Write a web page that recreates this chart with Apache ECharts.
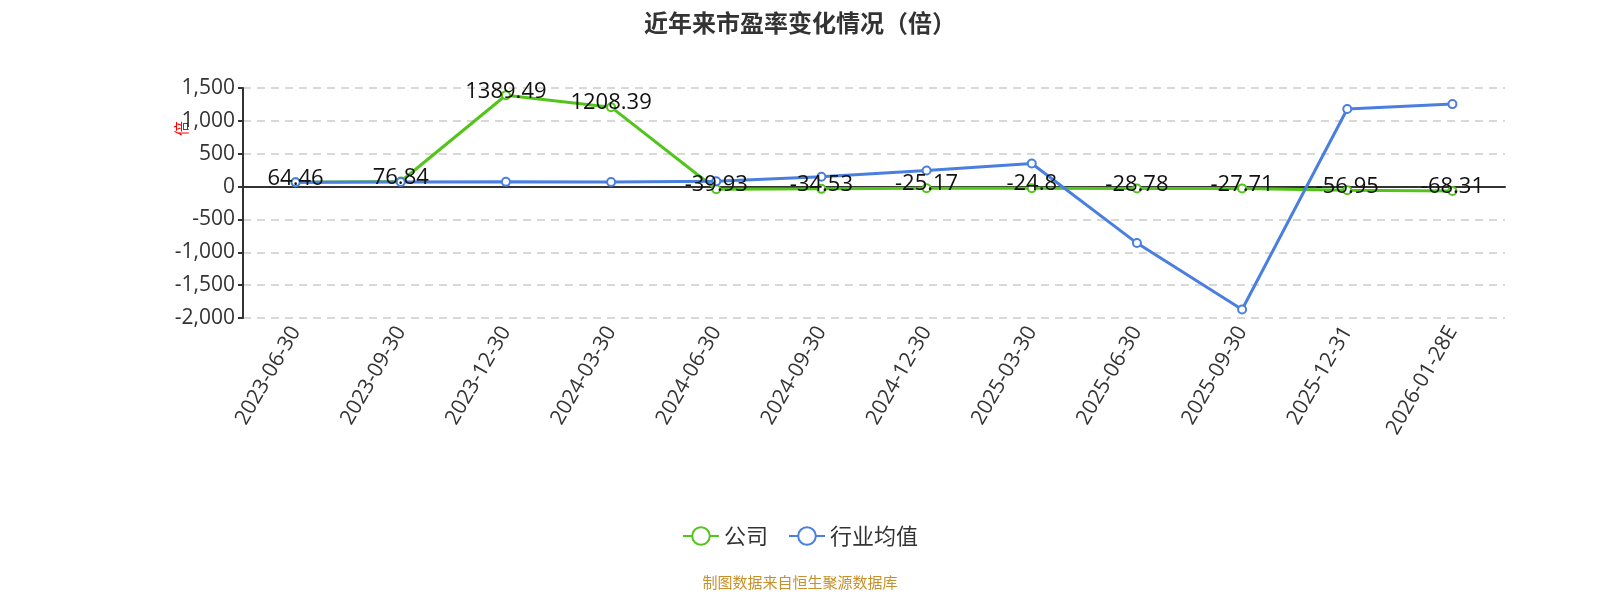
<!DOCTYPE html><html><head><meta charset="utf-8"><script src="https://cdn.jsdelivr.net/npm/echarts@6/dist/echarts.min.js"></script></head><body style="margin:0"><div id="c" style="width:1600px;height:600px"></div><script>
const categories=['2023-06-30','2023-09-30','2023-12-30','2024-03-30','2024-06-30','2024-09-30','2024-12-30','2025-03-30','2025-06-30','2025-09-30','2025-12-31','2026-01-28E'];
const company=[64.46,76.84,1389.49,1208.39,-39.93,-34.53,-25.17,-24.8,-28.78,-27.71,-56.95,-68.31];
const industry=[65,70,72,70,80,150,245,350,-860,-1870,1180,1255];
const yTicks={min:-2000,max:1500,interval:500};
const F='Open Sans';
const ch=echarts.init(document.getElementById('c'));
ch.setOption({
title:{text:'近年来市盈率变化情况（倍）',left:'center',top:6,textStyle:{fontSize:24,fontWeight:'bold',color:'#333',fontFamily:'Noto Sans CJK SC'}},
grid:{left:243,right:95,top:88,bottom:282,outerBoundsMode:'none',containLabel:false},
legend:{bottom:48,itemWidth:36,itemHeight:22,itemGap:20,textStyle:{fontSize:22,color:'#333',fontFamily:'Noto Sans CJK SC'},data:['公司','行业均值']},
graphic:[{type:'text',left:'center',bottom:10,style:{text:'制图数据来自恒生聚源数据库',fill:'#c8902a',fontSize:15,fontFamily:'Noto Sans CJK SC'}},
{type:'text',x:174,y:136,rotation:Math.PI/2,style:{text:'倍',fill:'red',fontSize:15,fontFamily:'Noto Sans CJK SC'}}],
xAxis:{type:'category',data:categories,axisLine:{onZero:true,lineStyle:{color:'#333',width:2}},axisTick:{lineStyle:{color:'#333',width:2},length:6},
 axisLabel:{rotate:60,fontSize:21,color:'#333',margin:10,interval:0,fontFamily:F}},
yAxis:{type:'value',...yTicks,
 axisLine:{show:true,lineStyle:{color:'#333',width:2}},axisTick:{show:true,lineStyle:{color:'#333',width:2}},
 axisLabel:{fontSize:21,color:'#333',fontFamily:F},splitLine:{lineStyle:{type:[8,6],color:'#ccc',width:1.5}}},
series:[
{name:'公司',type:'line',data:company,color:'#52c41a',symbol:'circle',symbolSize:8,itemStyle:{color:'#fff',borderColor:'#52c41a',borderWidth:2},lineStyle:{width:3,color:'#52c41a'},
 label:{show:true,position:'top',distance:-12,fontSize:22,color:'#111',fontFamily:F}},
{name:'行业均值',type:'line',data:industry,color:'#4a7fe0',symbol:'circle',symbolSize:8,itemStyle:{color:'#fff',borderColor:'#4a7fe0',borderWidth:2},lineStyle:{width:3,color:'#4a7fe0'}}
]});
</script></body></html>
